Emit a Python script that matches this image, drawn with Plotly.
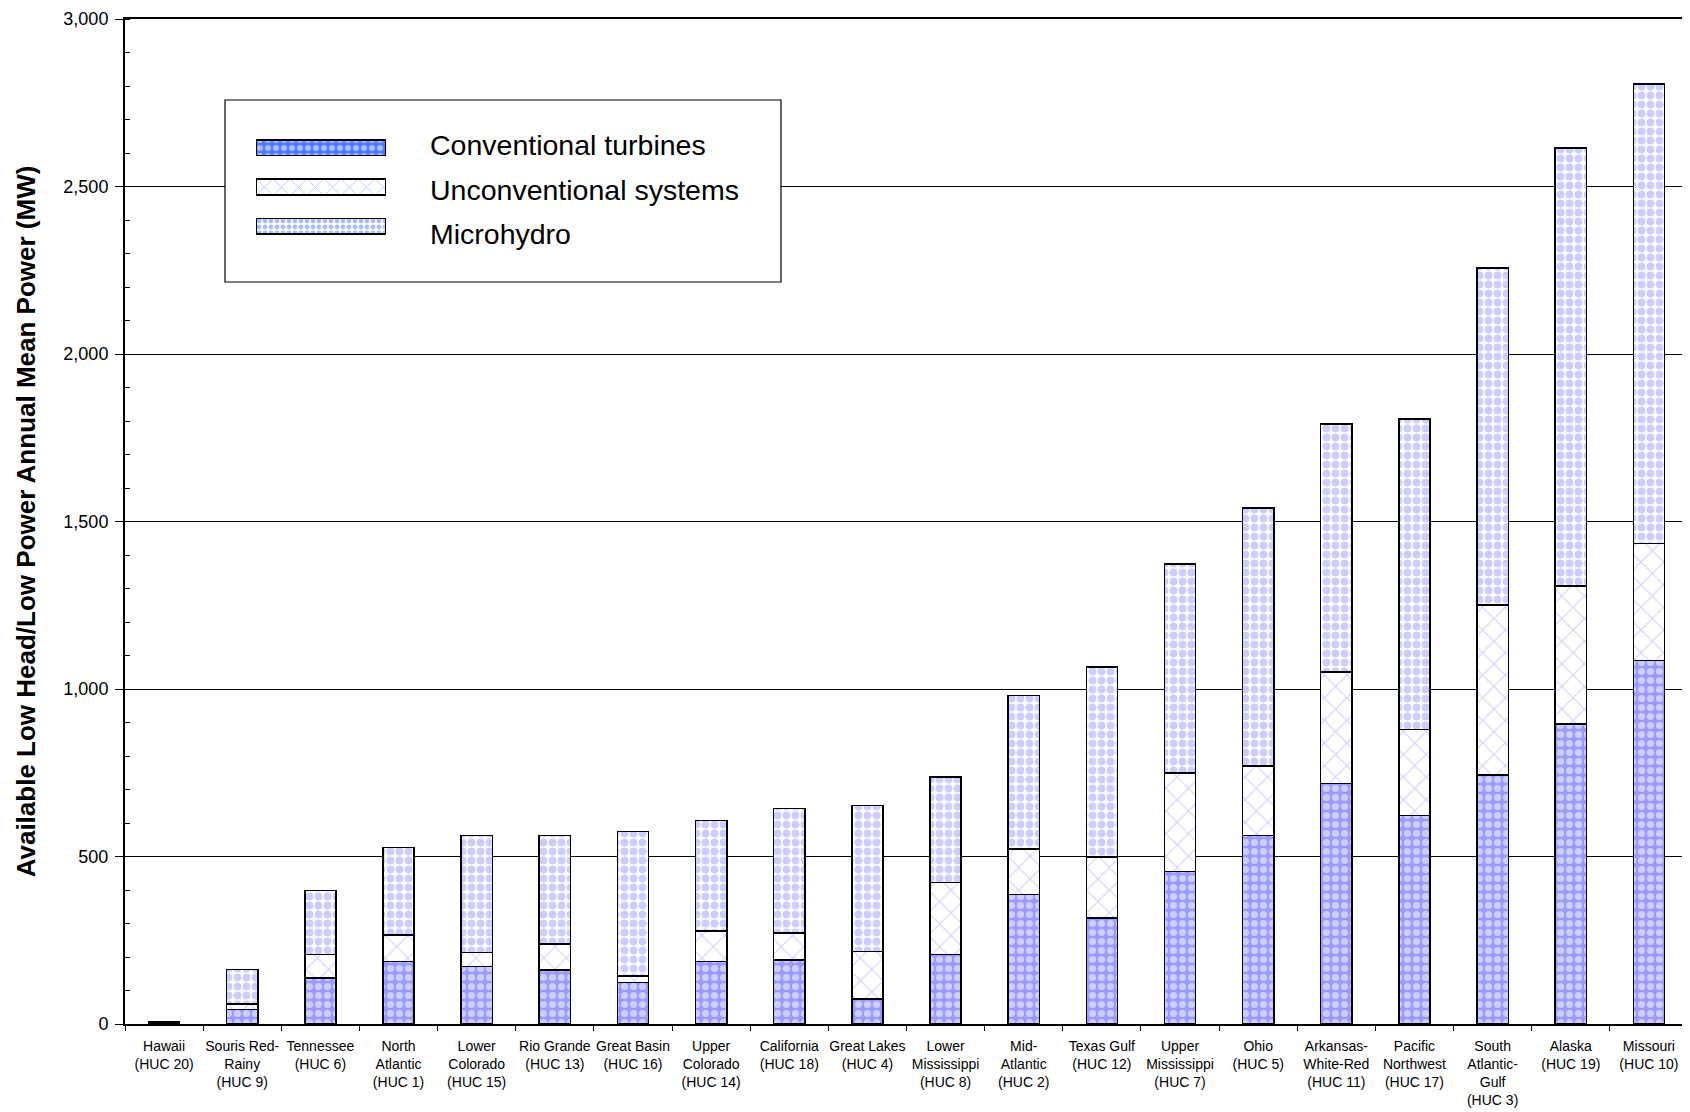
import plotly.graph_objects as go

categories = [
    "Hawaii<br>(HUC 20)", "Souris Red-<br>Rainy<br>(HUC 9)", "Tennessee<br>(HUC 6)",
    "North<br>Atlantic<br>(HUC 1)", "Lower<br>Colorado<br>(HUC 15)", "Rio Grande<br>(HUC 13)",
    "Great Basin<br>(HUC 16)", "Upper<br>Colorado<br>(HUC 14)", "California<br>(HUC 18)",
    "Great Lakes<br>(HUC 4)", "Lower<br>Mississippi<br>(HUC 8)", "Mid-<br>Atlantic<br>(HUC 2)",
    "Texas Gulf<br>(HUC 12)", "Upper<br>Mississippi<br>(HUC 7)", "Ohio<br>(HUC 5)",
    "Arkansas-<br>White-Red<br>(HUC 11)", "Pacific<br>Northwest<br>(HUC 17)",
    "South<br>Atlantic-<br>Gulf<br>(HUC 3)", "Alaska<br>(HUC 19)", "Missouri<br>(HUC 10)",
]

# cumulative tops (MW)
conv_top = [3, 43, 138, 186, 171, 161, 124, 186, 191, 75, 208, 387, 317, 455, 562, 718, 623, 744, 895, 1085]
unconv_top = [4, 60, 207, 265, 214, 239, 143, 278, 272, 216, 423, 522, 499, 750, 770, 1051, 879, 1251, 1308, 1434]
total = [6, 162, 398, 527, 562, 562, 575, 608, 643, 653, 738, 980, 1066, 1373, 1540, 1791, 1806, 2257, 2615, 2806]

conventional = conv_top
unconventional = [u - c for u, c in zip(unconv_top, conv_top)]
microhydro = [t - u for t, u in zip(total, unconv_top)]

series_names = ["Conventional turbines", "Unconventional systems", "Microhydro"]

BLUE = "#9999ff"
LEG_BLUE = "#4d79ff"
line = dict(color="black", width=1.5)

styles = [
    dict(color=BLUE, pattern=dict(shape=".", fillmode="overlay", fgcolor="white", size=9, solidity=0.5)),
    dict(color="white", pattern=dict(shape="x", fillmode="overlay", fgcolor=BLUE, size=16, solidity=0.12)),
    dict(color="white", pattern=dict(shape=".", fillmode="overlay", fgcolor=BLUE, size=9, solidity=0.6)),
]
legend_styles = [
    dict(color=LEG_BLUE, pattern=dict(shape=".", fillmode="overlay", fgcolor="white", size=8, solidity=0.45)),
    dict(color="white", pattern=dict(shape="x", fillmode="overlay", fgcolor=LEG_BLUE, size=12, solidity=0.12)),
    dict(color="white", pattern=dict(shape=".", fillmode="overlay", fgcolor=LEG_BLUE, size=6, solidity=0.5)),
]

fig = go.Figure()
for name, vals, st in zip(series_names, [conventional, unconventional, microhydro], styles):
    fig.add_trace(go.Bar(x=categories, y=vals, name=name,
                         marker=dict(line=line, **st), showlegend=False))

# legend box background (own subplot so it hides the gridlines beneath it)
fig.add_trace(go.Bar(x=[0.5], y=[1], width=[1], xaxis="x2", yaxis="y2",
                     marker=dict(color="white", line=dict(width=0)),
                     showlegend=False, hoverinfo="skip"))

# legend swatches
for name, st in zip(series_names, legend_styles):
    fig.add_trace(go.Bar(x=[1], y=[name], orientation="h", xaxis="x3", yaxis="y3",
                         marker=dict(line=dict(color="black", width=1.5), **st),
                         showlegend=False, hoverinfo="skip"))

W, H = 1690, 1112
OFF = 8  # default page body margin
ML, MR, MT, MB = 117, 10, 11, 96
PW, PH = W - ML - MR, H - MT - MB


def px(x):
    return (x - OFF - ML) / PW


def py(y):
    return (H - MB - (y - OFF)) / PH


fig.update_layout(
    barmode="stack",
    bargap=0.6,
    width=W, height=H,
    margin=dict(l=ML, r=MR, t=MT, b=MB),
    paper_bgcolor="white", plot_bgcolor="white",
    font=dict(family="Liberation Sans, Arial, sans-serif", color="black"),
    showlegend=False,
    xaxis2=dict(domain=[px(225), px(781)], range=[0, 1], visible=False, anchor="y2"),
    yaxis2=dict(domain=[py(282), py(100)], range=[0, 1], visible=False, anchor="x2"),
    xaxis3=dict(domain=[px(256), px(386)], range=[0, 1], visible=False, anchor="y3"),
    yaxis3=dict(domain=[py(246), py(128)], type="category", autorange="reversed",
                visible=False, anchor="x3"),
    shapes=[dict(type="rect", xref="paper", yref="paper",
                 x0=px(225), x1=px(781), y0=py(282), y1=py(100),
                 line=dict(color="black", width=1.2), fillcolor="rgba(0,0,0,0)", layer="above")],
)
for name, yc in zip(series_names, [145, 190, 234]):
    fig.add_annotation(text=name, xref="paper", yref="paper", x=px(428), y=py(yc),
                       xanchor="left", yanchor="middle", showarrow=False,
                       font=dict(size=28.5, family="Liberation Sans, Arial, sans-serif"))

fig.update_layout(xaxis=dict(
    type="category", tickson="boundaries", ticks="outside", ticklen=5,
    tickcolor="black", showline=True, linecolor="black", linewidth=2, mirror=True,
    showgrid=False, tickangle=0, automargin=False, ticklabelstandoff=8,
    tickfont=dict(size=14, family="Liberation Sans Narrow, Liberation Sans, Arial, sans-serif"),
))
fig.update_layout(yaxis=dict(
    range=[0, 3000], dtick=500, tickformat=",", ticks="outside", ticklen=8,
    tickcolor="black", showline=True, linecolor="black", linewidth=2, mirror=True,
    showgrid=True, gridcolor="black", gridwidth=1, automargin=False,
    minor=dict(dtick=100, ticks="inside", ticklen=5, tickcolor="black", showgrid=False),
    tickfont=dict(size=18), ticklabelstandoff=3,
    title=dict(text="<b>Available Low Head/Low Power Annual Mean Power (MW)</b>",
               font=dict(size=26), standoff=20),
    zeroline=False,
))

fig.write_html("out.html")
